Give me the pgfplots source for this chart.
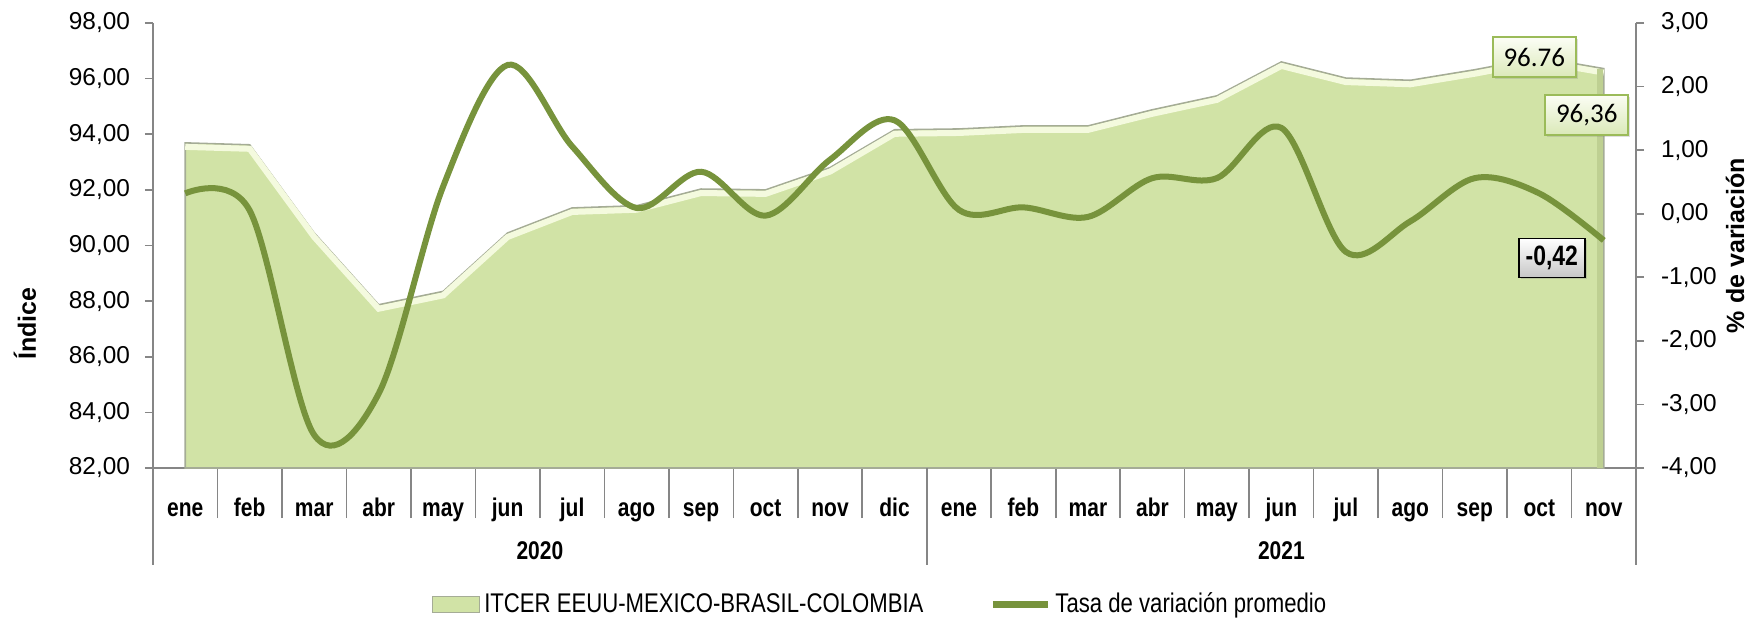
\documentclass[border=0pt]{standalone}
\usepackage{fontspec}
\setmainfont{Liberation Sans}
\newfontfamily\narrowfont[FakeStretch=0.82]{Liberation Sans}
\newfontfamily\labelfont{Carlito}
\usepackage{pgfplots}
\usepackage{pgfplotstable}
\pgfplotsset{compat=1.18}
\usetikzlibrary{shadows}

\definecolor{areafill}{RGB}{209,227,166}
\definecolor{areahi}{RGB}{244,250,222}
\definecolor{areaedge}{RGB}{165,172,150}
\definecolor{areadark}{RGB}{190,208,146}
\definecolor{linegreen}{RGB}{119,147,60}
\definecolor{axisgray}{RGB}{134,134,134}
\definecolor{boxborder}{RGB}{155,187,89}

% index (ITCER) and average rate of change, Jan 2020 - Nov 2021
\pgfplotstableread{
x itcer tasa
0  93.69  0.32
1  93.62  0.05
2  90.45 -3.48
3  87.87 -2.83
4  88.35  0.43
5  90.45  2.34
6  91.35  1.06
7  91.43  0.09
8  92.03  0.66
9  92.00 -0.03
10 92.80  0.85
11 94.16  1.47
12 94.19  0.06
13 94.30  0.10
14 94.30 -0.05
15 94.88  0.56
16 95.38  0.56
17 96.60  1.35
18 96.02 -0.60
19 95.94 -0.12
20 96.32  0.56
21 96.76  0.32
22 96.36 -0.42
}\datatable

\pgfplotsset{
  common/.style={
    at={(76.5pt,74.5pt)}, anchor=south west,
    scale only axis, width=741.5pt, height=222.5pt,
    xmin=-0.5, xmax=22.5,
    clip mode=individual,
    tick align=outside, major tick length=4pt,
    axis line style={axisgray, line width=0.8pt},
    ytick style={axisgray, line width=0.8pt},
    yticklabel style={font=\fontsize{12.2}{14}\selectfont,
      /pgf/number format/fixed, /pgf/number format/fixed zerofill,
      /pgf/number format/precision=2, /pgf/number format/use comma,
      /pgf/number format/assume math mode=true},
  },
}

\begin{document}
\begin{tikzpicture}
\useasboundingbox (0,0) rectangle (876pt,308.5pt);

% left axis: index as a bevelled area
\begin{axis}[common,
  ymin=82, ymax=98, ytick={82,84,...,98},
  axis x line*=bottom, axis y line*=left,
  xtick={-0.5,0.5,...,21.5},
  xticklabels={ene,feb,mar,abr,may,jun,jul,ago,sep,oct,nov,dic,
               ene,feb,mar,abr,may,jun,jul,ago,sep,oct,nov},
  xtick style={axisgray, line width=0.8pt, /pgfplots/major tick length=25pt},
  xticklabel style={font=\narrowfont\bfseries\fontsize{12.8}{14}\selectfont,
    anchor=base, xshift=16.12pt, yshift=-20pt},
  yticklabel style={anchor=east, xshift=-4pt},
  every axis y label/.style={at={(rel axis cs:0,0.324)}, xshift=-64pt,
    rotate=90, anchor=center, font=\bfseries\fontsize{12.5}{14}\selectfont},
  ylabel={Índice},
]
  \addplot[fill=areafill, draw=areaedge, line width=0.8pt]
    table[x=x, y=itcer]{\datatable} \closedcycle;
  \addplot[draw=areahi, line width=3pt, yshift=-2pt]
    table[x=x, y=itcer]{\datatable};
  \addplot[draw=areadark, line width=3pt, xshift=-2pt]
    coordinates {(22,82) (22,96.36)};
  \draw[axisgray, line width=0.8pt] (axis cs:-0.5,82) -- ++(0pt,-48.5pt);
  \draw[axisgray, line width=0.8pt] (axis cs:11.5,82) -- ++(0pt,-48.5pt);
  \draw[axisgray, line width=0.8pt] (axis cs:22.5,82) -- ++(0pt,-48.5pt);
  \node[font=\narrowfont\bfseries\fontsize{12.8}{14}\selectfont]
    at (axis cs:5.5,82) [yshift=-41.5pt] {2020};
  \node[font=\narrowfont\bfseries\fontsize{12.8}{14}\selectfont]
    at (axis cs:17,82) [yshift=-41.5pt] {2021};
  \node[draw=boxborder, line width=1pt, top color=white!70!areahi,
        bottom color=areafill!80!white, minimum width=41.5pt,
        minimum height=20pt, inner sep=2pt,
        font=\labelfont\fontsize{13.5}{15}\selectfont,
        drop shadow={opacity=0.25, shadow xshift=1pt, shadow yshift=-1pt}]
    at (axis cs:21,96.76) [xshift=-2.5pt] {96.76};
  \node[draw=boxborder, line width=1pt, top color=white!70!areahi,
        bottom color=areafill!80!white, minimum width=41.5pt,
        minimum height=20pt, inner sep=2pt,
        font=\labelfont\fontsize{13.5}{15}\selectfont,
        drop shadow={opacity=0.25, shadow xshift=1pt, shadow yshift=-1pt}]
    at (axis cs:22,96.36) [xshift=-8.5pt, yshift=-23pt] {96,36};
\end{axis}

% right axis: average rate of change
\begin{axis}[common,
  ymin=-4, ymax=3, ytick={-4,-3,...,3},
  axis x line=none, axis y line*=right,
  yticklabel style={anchor=west, xshift=5pt},
  every axis y label/.style={at={(rel axis cs:1,0.5)}, xshift=49.5pt,
    rotate=90, anchor=center, font=\bfseries\fontsize{12.5}{14}\selectfont},
  ylabel={\% de variación},
  legend columns=2,
  legend style={at={(0.491,-0.306)}, anchor=center, draw=none, fill=none,
    font=\narrowfont\fontsize{13.5}{15}\selectfont,
    /tikz/every even column/.append style={column sep=31pt}},
  legend cell align=left,
]
  \addlegendimage{legend image code/.code={
    \draw[fill=areafill, draw=areaedge, line width=0.6pt]
      (0pt,-4pt) rectangle (23.5pt,4pt);}}
  \addlegendentry{ITCER EEUU-MEXICO-BRASIL-COLOMBIA}
  \addplot[linegreen, line width=3pt, smooth, tension=0.55,
    legend image code/.code={\draw[linegreen, line width=3.5pt]
      (0pt,0pt) -- (27.5pt,0pt);}]
    table[x=x, y=tasa]{\datatable};
  \addlegendentry{Tasa de variación promedio}
  \node[draw=black, line width=0.8pt, top color=white, bottom color=black!22,
        minimum width=33pt, minimum height=19.5pt, inner sep=2pt,
        font=\narrowfont\bfseries\fontsize{14}{16}\selectfont,
        drop shadow={opacity=0.3, shadow xshift=1pt, shadow yshift=-1pt}]
    at (axis cs:22,-0.42) [xshift=-26pt, yshift=-8.75pt] {-0,42};
\end{axis}
\end{tikzpicture}
\end{document}
